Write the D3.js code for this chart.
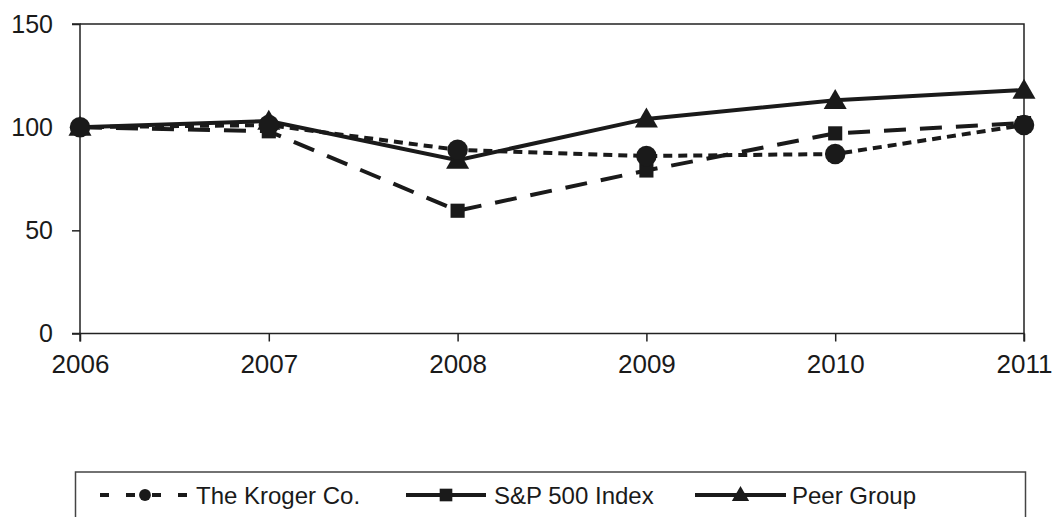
<!DOCTYPE html>
<html>
<head>
<meta charset="utf-8">
<script src="https://cdn.jsdelivr.net/npm/d3@7"></script>
<style>
  html, body { margin: 0; padding: 0; background: #fff; }
  svg { display: block; }
  text { font-family: "Liberation Sans", Arial, sans-serif; fill: #1a1a1a; }
</style>
</head>
<body>
<svg id="chart" width="1053" height="517"></svg>
<script>
const years = ["2006", "2007", "2008", "2009", "2010", "2011"];
const krogerValues = [100, 101, 89, 86, 87, 101];
const sp500Values = [100, 98, 59.5, 79, 97, 102];
const peerValues = [100, 103, 84, 104, 113, 118];
const yTicks = [0, 50, 100, 150];
const seriesNames = ["The Kroger Co.", "S&P 500 Index", "Peer Group"];

(function () {
const ink = "#1a1a1a";
const svg = d3.select("#chart");
const pLeft = 80, pRight = 1024, pTop = 24, pBottom = 333.5;

const x = d3.scalePoint().domain(years).range([pLeft, pRight]);
const y = d3.scaleLinear().domain([0, 150]).range([pBottom, pTop]);

// plot frame (top and right)
svg.append("path")
  .attr("d", `M${pLeft},${pTop}H${pRight}V${pBottom}`)
  .attr("fill", "none").attr("stroke", "#222").attr("stroke-width", 1.5);

const yAxis = svg.append("g").attr("transform", `translate(${pLeft},0)`)
  .call(d3.axisLeft(y).tickValues(yTicks).tickSize(8).tickPadding(19).tickFormat(d3.format("d")));
const xAxis = svg.append("g").attr("transform", `translate(0,${pBottom})`)
  .call(d3.axisBottom(x).tickSize(8).tickPadding(13));
[yAxis, xAxis].forEach(g => {
  g.select(".domain").attr("stroke", "#222").attr("stroke-width", 1.5);
  g.selectAll(".tick line").attr("stroke", "#222").attr("stroke-width", 1.5);
  g.selectAll("text").attr("fill", ink)
    .style("font-family", '"Liberation Sans", Arial, sans-serif');
});
yAxis.selectAll("text").attr("font-size", 25);
xAxis.selectAll("text").attr("font-size", 26);
yAxis.select(".domain").attr("d", `M-8,${pTop}H0V${pBottom}H-8`);
xAxis.select(".domain").attr("d", `M${pLeft},8V0H${pRight}V8`);

const series = [
  { name: seriesNames[0], values: krogerValues, dash: "9,6", legendDash: "9,17", marker: "circle" },
  { name: seriesNames[1], values: sp500Values, dash: "22,14", legendDash: null, marker: "square" },
  { name: seriesNames[2], values: peerValues, dash: null, legendDash: null, marker: "triangle" }
];

const line = d3.line().x((d, i) => x(years[i])).y(d => y(d));
const symbolFor = m => m === "circle" ? d3.symbolCircle : m === "square" ? d3.symbolSquare : d3.symbolTriangle;
const sizeFor = m => m === "circle" ? 330 : m === "square" ? 200 : 230;

const drawOrder = [series[2], series[1], series[0]];
drawOrder.forEach(s => {
  svg.append("path").datum(s.values)
    .attr("d", line)
    .attr("fill", "none").attr("stroke", ink).attr("stroke-width", 4)
    .attr("stroke-dasharray", s.dash);
});
drawOrder.forEach(s => {
  svg.append("g").selectAll("path").data(s.values).join("path")
    .attr("transform", (d, i) => `translate(${x(years[i])},${y(d) + (s.marker === "triangle" ? 2 : 0)})`)
    .attr("d", d3.symbol().type(symbolFor(s.marker)).size(sizeFor(s.marker)))
    .attr("fill", ink);
});

// legend
const legend = svg.append("g");
legend.append("rect").attr("x", 75.5).attr("y", 472).attr("width", 950).attr("height", 70)
  .attr("fill", "none").attr("stroke", "#444").attr("stroke-width", 1.5);

const legendItems = [
  { s: series[0], x0: 100, x1: 190, tx: 196 },
  { s: series[1], x0: 406, x1: 486, tx: 494 },
  { s: series[2], x0: 695, x1: 786, tx: 792 }
];
const ly = 495;
legendItems.forEach(it => {
  const g = legend.append("g");
  g.append("line").attr("x1", it.x0).attr("x2", it.x1).attr("y1", ly).attr("y2", ly)
    .attr("stroke", ink).attr("stroke-width", 4)
    .attr("stroke-dasharray", it.s.legendDash);
  const cx = (it.x0 + it.x1) / 2;
  g.append("path")
    .attr("transform", `translate(${cx},${ly + (it.s.marker === "triangle" ? 1 : 0)})`)
    .attr("d", d3.symbol().type(symbolFor(it.s.marker)).size(it.s.marker === "circle" ? 110 : it.s.marker === "square" ? 160 : 130))
    .attr("fill", ink);
  g.append("text").attr("x", it.tx).attr("y", ly).attr("dy", "0.36em")
    .attr("font-size", 24).text(it.s.name);
});
})();
</script>
</body>
</html>
